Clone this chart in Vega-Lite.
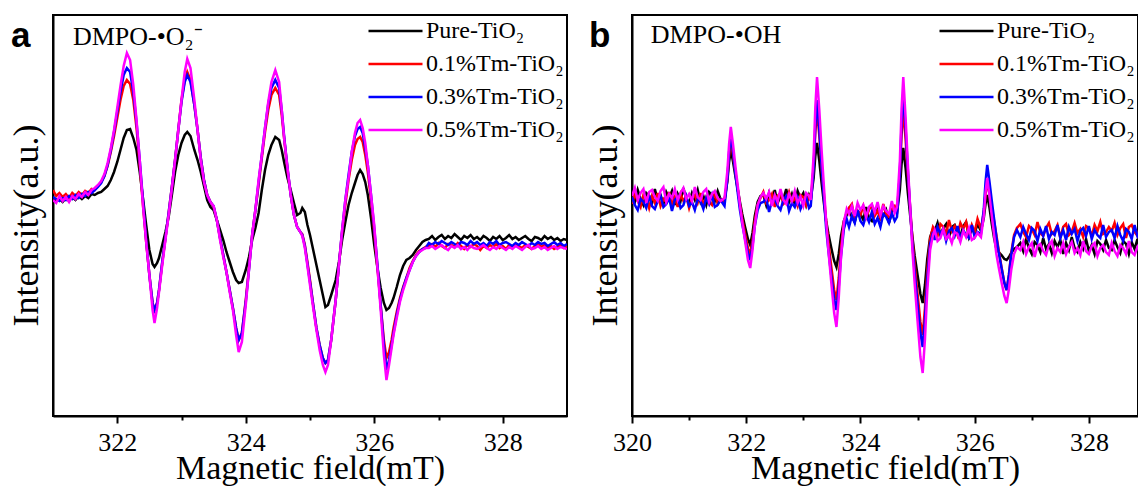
{
  "$schema": "https://vega.github.io/schema/vega-lite/v6.json",
  "padding": {"left": 7, "top": 14, "right": 0, "bottom": 0},
  "config": {
    "font": "Liberation Serif",
    "view": {"stroke": "#000000", "strokeWidth": 2},
    "axis": {"grid": false, "domainColor": "#000000", "domainWidth": 2, "tickColor": "#000000", "tickWidth": 2, "labelColor": "#000000", "labelFont": "Liberation Serif", "titleFont": "Liberation Serif", "titleColor": "#000000", "titleFontWeight": "normal"},
    "legend": {"labelFont": "Liberation Serif", "labelColor": "#000000"}
  },
  "datasets": {
    "a": [
      {"x":321.00,"P":218,"R":226,"B":219,"M":216},{"x":321.05,"P":215,"R":220,"B":217,"M":213},{"x":321.10,"P":217,"R":223,"B":215,"M":220},{"x":321.15,"P":214,"R":219,"B":218,"M":215},{"x":321.20,"P":218,"R":222,"B":216,"M":219},{"x":321.25,"P":215,"R":218,"B":220,"M":214},{"x":321.30,"P":219,"R":223,"B":217,"M":220},{"x":321.35,"P":216,"R":220,"B":221,"M":217},{"x":321.40,"P":220,"R":224,"B":218,"M":222},{"x":321.45,"P":217,"R":221,"B":222,"M":219},{"x":321.50,"P":220,"R":225,"B":220,"M":224},{"x":321.55,"P":218,"R":223,"B":224,"M":221},{"x":321.60,"P":222,"R":227,"B":223,"M":226},{"x":321.65,"P":221,"R":226,"B":226,"M":228},{"x":321.70,"P":223,"R":230,"B":229,"M":231},{"x":321.75,"P":224,"R":234,"B":233,"M":235},{"x":321.80,"P":227,"R":240,"B":240,"M":242},{"x":321.85,"P":230,"R":250,"B":251,"M":253},{"x":321.90,"P":236,"R":264,"B":266,"M":268},{"x":321.95,"P":244,"R":280,"B":284,"M":286},{"x":322.00,"P":254,"R":298,"B":304,"M":308},{"x":322.05,"P":266,"R":316,"B":324,"M":330},{"x":322.10,"P":278,"R":330,"B":341,"M":350},{"x":322.15,"P":286,"R":336,"B":348,"M":363},{"x":322.20,"P":287,"R":332,"B":344,"M":356},{"x":322.25,"P":278,"R":316,"B":324,"M":331},{"x":322.30,"P":266,"R":288,"B":294,"M":296},{"x":322.35,"P":244,"R":251,"B":256,"M":256},{"x":322.40,"P":218,"R":211,"B":216,"M":211},{"x":322.45,"P":191,"R":174,"B":176,"M":174},{"x":322.50,"P":166,"R":141,"B":141,"M":141},{"x":322.55,"P":152,"R":113,"B":113,"M":106},{"x":322.58,"P":149,"R":106,"B":106,"M":93},{"x":322.62,"P":153,"R":113,"B":113,"M":108},{"x":322.65,"P":158,"R":126,"B":126,"M":124},{"x":322.70,"P":171,"R":153,"B":154,"M":151},{"x":322.75,"P":184,"R":178,"B":178,"M":176},{"x":322.80,"P":199,"R":203,"B":203,"M":201},{"x":322.85,"P":221,"R":229,"B":229,"M":228},{"x":322.90,"P":244,"R":256,"B":256,"M":256},{"x":322.95,"P":261,"R":286,"B":286,"M":286},{"x":323.00,"P":273,"R":316,"B":314,"M":316},{"x":323.05,"P":281,"R":336,"B":334,"M":344},{"x":323.09,"P":284,"R":344,"B":341,"M":357},{"x":323.14,"P":280,"R":336,"B":334,"M":348},{"x":323.20,"P":266,"R":311,"B":311,"M":316},{"x":323.25,"P":256,"R":286,"B":286,"M":286},{"x":323.30,"P":244,"R":258,"B":258,"M":256},{"x":323.35,"P":230,"R":236,"B":236,"M":234},{"x":323.40,"P":216,"R":221,"B":221,"M":221},{"x":323.45,"P":209,"R":214,"B":214,"M":214},{"x":323.50,"P":206,"R":209,"B":210,"M":210},{"x":323.55,"P":196,"R":196,"B":196,"M":196},{"x":323.60,"P":186,"R":178,"B":178,"M":176},{"x":323.65,"P":176,"R":161,"B":161,"M":159},{"x":323.70,"P":164,"R":144,"B":144,"M":144},{"x":323.75,"P":154,"R":126,"B":126,"M":124},{"x":323.80,"P":144,"R":108,"B":108,"M":106},{"x":323.85,"P":136,"R":88,"B":88,"M":81},{"x":323.89,"P":133,"R":76,"B":76,"M":64},{"x":323.94,"P":134,"R":83,"B":83,"M":74},{"x":324.00,"P":146,"R":116,"B":114,"M":111},{"x":324.05,"P":159,"R":148,"B":146,"M":146},{"x":324.10,"P":176,"R":181,"B":181,"M":181},{"x":324.15,"P":188,"R":206,"B":206,"M":206},{"x":324.20,"P":203,"R":231,"B":234,"M":236},{"x":324.25,"P":226,"R":258,"B":261,"M":261},{"x":324.30,"P":246,"R":284,"B":288,"M":288},{"x":324.35,"P":261,"R":306,"B":312,"M":314},{"x":324.40,"P":271,"R":321,"B":328,"M":334},{"x":324.46,"P":279,"R":328,"B":336,"M":346},{"x":324.52,"P":276,"R":321,"B":328,"M":334},{"x":324.56,"P":266,"R":301,"B":306,"M":306},{"x":324.60,"P":253,"R":276,"B":278,"M":276},{"x":324.65,"P":238,"R":246,"B":248,"M":248},{"x":324.70,"P":226,"R":221,"B":221,"M":221},{"x":324.75,"P":213,"R":201,"B":201,"M":201},{"x":324.80,"P":201,"R":189,"B":189,"M":189},{"x":324.85,"P":203,"R":184,"B":184,"M":184},{"x":324.88,"P":208,"R":182,"B":181,"M":180},{"x":324.92,"P":204,"R":171,"B":170,"M":168},{"x":324.96,"P":191,"R":154,"B":152,"M":150},{"x":325.00,"P":181,"R":136,"B":134,"M":131},{"x":325.05,"P":166,"R":111,"B":111,"M":108},{"x":325.10,"P":151,"R":88,"B":88,"M":86},{"x":325.15,"P":136,"R":71,"B":71,"M":66},{"x":325.20,"P":121,"R":58,"B":58,"M":51},{"x":325.24,"P":109,"R":53,"B":53,"M":44},{"x":325.28,"P":111,"R":56,"B":56,"M":51},{"x":325.33,"P":121,"R":76,"B":76,"M":76},{"x":325.40,"P":136,"R":116,"B":116,"M":116},{"x":325.45,"P":154,"R":151,"B":151,"M":151},{"x":325.50,"P":176,"R":184,"B":186,"M":186},{"x":325.55,"P":194,"R":211,"B":216,"M":216},{"x":325.60,"P":211,"R":236,"B":241,"M":238},{"x":325.65,"P":223,"R":256,"B":264,"M":264},{"x":325.70,"P":233,"R":271,"B":280,"M":283},{"x":325.74,"P":241,"R":277,"B":287,"M":293},{"x":325.78,"P":246,"R":279,"B":289,"M":296},{"x":325.82,"P":242,"R":274,"B":283,"M":288},{"x":325.86,"P":234,"R":261,"B":268,"M":273},{"x":325.90,"P":221,"R":244,"B":251,"M":251},{"x":325.95,"P":198,"R":216,"B":221,"M":221},{"x":326.00,"P":171,"R":184,"B":188,"M":191},{"x":326.05,"P":148,"R":148,"B":151,"M":148},{"x":326.10,"P":128,"R":111,"B":111,"M":106},{"x":326.15,"P":113,"R":76,"B":71,"M":61},{"x":326.19,"P":106,"R":58,"B":46,"M":36},{"x":326.23,"P":108,"R":64,"B":56,"M":51},{"x":326.27,"P":113,"R":76,"B":71,"M":68},{"x":326.30,"P":118,"R":88,"B":83,"M":81},{"x":326.35,"P":129,"R":104,"B":101,"M":98},{"x":326.40,"P":141,"R":118,"B":116,"M":114},{"x":326.45,"P":150,"R":129,"B":128,"M":126},{"x":326.50,"P":156,"R":138,"B":138,"M":136},{"x":326.55,"P":158,"R":148,"B":146,"M":146},{"x":326.60,"P":161,"R":155,"B":154,"M":154},{"x":326.65,"P":166,"R":161,"B":160,"M":160},{"x":326.70,"P":170,"R":165,"B":164,"M":164},{"x":326.75,"P":174,"R":167,"B":167,"M":166},{"x":326.80,"P":176,"R":169,"B":168,"M":168},
      {"x":326.85,"P":177,"R":170,"B":173,"M":168},{"x":326.90,"P":180,"R":172,"B":171,"M":170},{"x":326.95,"P":176,"R":169,"B":174,"M":167},{"x":327.00,"P":179,"R":173,"B":172,"M":169},{"x":327.05,"P":181,"R":170,"B":175,"M":171},{"x":327.10,"P":177,"R":168,"B":173,"M":168},{"x":327.15,"P":180,"R":172,"B":171,"M":166},{"x":327.20,"P":178,"R":171,"B":174,"M":170},{"x":327.25,"P":182,"R":169,"B":172,"M":168},{"x":327.30,"P":179,"R":173,"B":170,"M":171},{"x":327.35,"P":176,"R":170,"B":174,"M":167},{"x":327.40,"P":180,"R":167,"B":173,"M":169},{"x":327.45,"P":178,"R":171,"B":171,"M":166},{"x":327.50,"P":181,"R":169,"B":175,"M":170},{"x":327.55,"P":177,"R":172,"B":172,"M":168},{"x":327.60,"P":179,"R":170,"B":174,"M":167},{"x":327.65,"P":176,"R":166,"B":171,"M":169},{"x":327.70,"P":180,"R":170,"B":173,"M":171},{"x":327.75,"P":178,"R":168,"B":170,"M":168},{"x":327.80,"P":175,"R":171,"B":174,"M":166},{"x":327.85,"P":179,"R":169,"B":172,"M":169},{"x":327.90,"P":177,"R":172,"B":175,"M":167},{"x":327.95,"P":180,"R":168,"B":171,"M":170},{"x":328.00,"P":176,"R":170,"B":173,"M":168},{"x":328.05,"P":178,"R":167,"B":174,"M":166},{"x":328.10,"P":181,"R":171,"B":172,"M":169},{"x":328.15,"P":177,"R":169,"B":170,"M":167},{"x":328.20,"P":179,"R":172,"B":173,"M":170},{"x":328.25,"P":176,"R":170,"B":171,"M":168},{"x":328.30,"P":178,"R":168,"B":174,"M":166},{"x":328.35,"P":180,"R":171,"B":172,"M":169},{"x":328.40,"P":177,"R":169,"B":170,"M":171},{"x":328.45,"P":175,"R":167,"B":173,"M":167},{"x":328.50,"P":179,"R":170,"B":171,"M":168},{"x":328.55,"P":178,"R":172,"B":174,"M":170},{"x":328.60,"P":176,"R":169,"B":172,"M":167},{"x":328.65,"P":180,"R":171,"B":173,"M":169},{"x":328.70,"P":177,"R":168,"B":170,"M":166},{"x":328.75,"P":179,"R":170,"B":172,"M":168},{"x":328.80,"P":176,"R":167,"B":174,"M":170},{"x":328.85,"P":178,"R":169,"B":171,"M":167},{"x":328.90,"P":175,"R":171,"B":173,"M":169},{"x":328.95,"P":177,"R":168,"B":170,"M":168},{"x":329.00,"P":176,"R":170,"B":172,"M":167}
    ],
    "b": [
      {"x":320.00,"P":222,"R":212,"B":219,"M":220},{"x":320.05,"P":214,"R":222,"B":211,"M":228},{"x":320.10,"P":226,"R":215,"B":206,"M":216},{"x":320.15,"P":217,"R":209,"B":217,"M":223},{"x":320.20,"P":211,"R":221,"B":214,"M":227},{"x":320.25,"P":223,"R":218,"B":208,"M":213},{"x":320.30,"P":220,"R":208,"B":221,"M":224},{"x":320.35,"P":213,"R":220,"B":210,"M":226},{"x":320.40,"P":227,"R":213,"B":207,"M":219},{"x":320.45,"P":216,"R":223,"B":215,"M":215},{"x":320.50,"P":221,"R":210,"B":220,"M":225},{"x":320.55,"P":212,"R":217,"B":209,"M":229},{"x":320.60,"P":224,"R":214,"B":212,"M":214},{"x":320.65,"P":218,"R":224,"B":218,"M":222},{"x":320.70,"P":225,"R":211,"B":205,"M":218},{"x":320.75,"P":211,"R":219,"B":216,"M":227},{"x":320.80,"P":222,"R":209,"B":219,"M":216},{"x":320.85,"P":215,"R":222,"B":208,"M":223},{"x":320.90,"P":228,"R":215,"B":211,"M":228},{"x":320.95,"P":217,"R":220,"B":220,"M":217},{"x":321.00,"P":213,"R":208,"B":210,"M":222},{"x":321.05,"P":223,"R":218,"B":214,"M":215},{"x":321.10,"P":216,"R":221,"B":206,"M":229},{"x":321.15,"P":226,"R":213,"B":217,"M":219},{"x":321.20,"P":214,"R":223,"B":215,"M":216},{"x":321.25,"P":220,"R":210,"B":207,"M":224},{"x":321.30,"P":211,"R":219,"B":218,"M":227},{"x":321.35,"P":224,"R":214,"B":212,"M":214},{"x":321.40,"P":221,"R":211,"B":221,"M":222},{"x":321.45,"P":215,"R":224,"B":209,"M":225},{"x":321.50,"P":225,"R":212,"B":211,"M":218},{"x":321.55,"P":217,"R":217,"B":216,"M":215},
      {"x":321.62,"P":216,"R":214,"B":210,"M":218},{"x":321.67,"P":235,"R":237,"B":237,"M":245},{"x":321.70,"P":254,"R":261,"B":264,"M":272},{"x":321.73,"P":266,"R":276,"B":281,"M":289},{"x":321.77,"P":254,"R":261,"B":264,"M":271},{"x":321.81,"P":240,"R":244,"B":243,"M":250},{"x":321.85,"P":227,"R":228,"B":224,"M":231},{"x":321.89,"P":214,"R":211,"B":206,"M":211},{"x":321.93,"P":202,"R":197,"B":192,"M":194},{"x":321.98,"P":189,"R":182,"B":177,"M":175},{"x":322.03,"P":177,"R":168,"B":163,"M":156},{"x":322.07,"P":171,"R":161,"B":156,"M":148},{"x":322.11,"P":183,"R":175,"B":170,"M":166},{"x":322.15,"P":200,"R":195,"B":190,"M":190},{"x":322.20,"P":214,"R":211,"B":206,"M":211},{"x":322.25,"P":220,"R":218,"B":213,"M":219},
      {"x":322.30,"P":221,"R":224,"B":214,"M":223},{"x":322.35,"P":211,"R":213,"B":218,"M":217},{"x":322.40,"P":223,"R":216,"B":204,"M":224},{"x":322.45,"P":216,"R":222,"B":215,"M":210},{"x":322.50,"P":226,"R":209,"B":217,"M":221},{"x":322.55,"P":213,"R":220,"B":210,"M":214},{"x":322.60,"P":220,"R":223,"B":206,"M":227},{"x":322.65,"P":217,"R":212,"B":216,"M":216},{"x":322.70,"P":227,"R":215,"B":220,"M":212},{"x":322.75,"P":214,"R":224,"B":205,"M":222},{"x":322.80,"P":222,"R":214,"B":213,"M":215},{"x":322.85,"P":212,"R":218,"B":209,"M":225},{"x":322.90,"P":225,"R":210,"B":218,"M":213},{"x":322.95,"P":218,"R":221,"B":207,"M":219},{"x":323.00,"P":223,"R":219,"B":214,"M":210},{"x":323.05,"P":211,"R":211,"B":219,"M":223},{"x":323.10,"P":221,"R":222,"B":208,"M":220},
      {"x":323.13,"P":217,"R":215,"B":210,"M":216},{"x":323.18,"P":238,"R":248,"B":248,"M":260},{"x":323.21,"P":260,"R":284,"B":290,"M":309},{"x":323.24,"P":273,"R":306,"B":316,"M":339},{"x":323.28,"P":255,"R":280,"B":286,"M":306},{"x":323.32,"P":233,"R":249,"B":250,"M":266},{"x":323.36,"P":213,"R":222,"B":218,"M":230},{"x":323.40,"P":195,"R":194,"B":187,"M":194},{"x":323.44,"P":182,"R":173,"B":165,"M":165},{"x":323.49,"P":168,"R":149,"B":140,"M":133},{"x":323.54,"P":155,"R":126,"B":117,"M":103},{"x":323.58,"P":149,"R":116,"B":106,"M":89},{"x":323.62,"P":162,"R":138,"B":129,"M":118},{"x":323.66,"P":180,"R":168,"B":160,"M":159},{"x":323.71,"P":195,"R":194,"B":187,"M":194},{"x":323.76,"P":201,"R":204,"B":197,"M":207},
      {"x":323.80,"P":207,"R":208,"B":189,"M":202},{"x":323.85,"P":199,"R":212,"B":200,"M":210},{"x":323.90,"P":194,"R":197,"B":193,"M":200},{"x":323.95,"P":205,"R":205,"B":206,"M":213},{"x":324.00,"P":202,"R":201,"B":195,"M":206},{"x":324.05,"P":196,"R":210,"B":191,"M":211},{"x":324.10,"P":209,"R":199,"B":201,"M":199},{"x":324.15,"P":198,"R":206,"B":194,"M":209},{"x":324.20,"P":195,"R":211,"B":204,"M":212},{"x":324.25,"P":203,"R":200,"B":192,"M":204},{"x":324.30,"P":208,"R":205,"B":198,"M":214},{"x":324.35,"P":197,"R":198,"B":189,"M":201},{"x":324.40,"P":200,"R":212,"B":202,"M":210},{"x":324.45,"P":206,"R":202,"B":199,"M":205},{"x":324.50,"P":193,"R":199,"B":193,"M":202},{"x":324.55,"P":204,"R":207,"B":203,"M":215},{"x":324.60,"P":207,"R":210,"B":195,"M":203},
      {"x":324.64,"P":203,"R":205,"B":199,"M":209},{"x":324.69,"P":226,"R":241,"B":243,"M":255},{"x":324.72,"P":252,"R":281,"B":292,"M":307},{"x":324.75,"P":268,"R":306,"B":323,"M":339},{"x":324.79,"P":248,"R":277,"B":288,"M":299},{"x":324.83,"P":223,"R":241,"B":246,"M":252},{"x":324.87,"P":201,"R":209,"B":208,"M":209},{"x":324.91,"P":179,"R":177,"B":172,"M":166},{"x":324.95,"P":160,"R":151,"B":143,"M":132},{"x":325.00,"P":141,"R":122,"B":112,"M":95},{"x":325.05,"P":122,"R":94,"B":83,"M":59},{"x":325.09,"P":113,"R":81,"B":69,"M":43},{"x":325.13,"P":131,"R":108,"B":97,"M":77},{"x":325.17,"P":157,"R":145,"B":137,"M":125},{"x":325.22,"P":179,"R":177,"B":172,"M":166},{"x":325.27,"P":187,"R":189,"B":184,"M":181},
      {"x":325.30,"P":185,"R":186,"B":176,"M":186},{"x":325.35,"P":193,"R":180,"B":189,"M":175},{"x":325.40,"P":181,"R":192,"B":182,"M":178},{"x":325.45,"P":188,"R":189,"B":187,"M":187},{"x":325.50,"P":192,"R":182,"B":175,"M":177},{"x":325.55,"P":178,"R":196,"B":185,"M":181},{"x":325.60,"P":189,"R":185,"B":188,"M":173},{"x":325.65,"P":191,"R":190,"B":180,"M":184},{"x":325.70,"P":184,"R":181,"B":190,"M":182},{"x":325.75,"P":180,"R":193,"B":177,"M":174},{"x":325.80,"P":190,"R":187,"B":186,"M":185},{"x":325.85,"P":194,"R":194,"B":181,"M":179},{"x":325.90,"P":179,"R":180,"B":178,"M":188},{"x":325.95,"P":187,"R":191,"B":191,"M":176},{"x":326.00,"P":183,"R":184,"B":179,"M":178},{"x":326.05,"P":192,"R":197,"B":184,"M":183},
      {"x":326.11,"P":185,"R":187,"B":182,"M":179},{"x":326.16,"P":198,"R":204,"B":207,"M":200},{"x":326.19,"P":212,"R":222,"B":234,"M":224},{"x":326.22,"P":221,"R":234,"B":251,"M":238},{"x":326.26,"P":208,"R":222,"B":234,"M":220},{"x":326.30,"P":192,"R":208,"B":215,"M":200},{"x":326.34,"P":178,"R":195,"B":197,"M":181},{"x":326.38,"P":167,"R":181,"B":179,"M":162},{"x":326.42,"P":164,"R":166,"B":164,"M":149},{"x":326.47,"P":161,"R":149,"B":148,"M":134},{"x":326.52,"P":157,"R":133,"B":133,"M":120},{"x":326.56,"P":156,"R":126,"B":126,"M":113},{"x":326.60,"P":159,"R":141,"B":141,"M":127},{"x":326.64,"P":163,"R":163,"B":161,"M":146},{"x":326.69,"P":167,"R":181,"B":179,"M":162},{"x":326.74,"P":169,"R":188,"B":186,"M":169},
      {"x":326.80,"P":173,"R":192,"B":179,"M":166},{"x":326.85,"P":165,"R":184,"B":189,"M":174},{"x":326.90,"P":177,"R":179,"B":182,"M":162},{"x":326.95,"P":168,"R":190,"B":176,"M":169},{"x":327.00,"P":162,"R":187,"B":188,"M":173},{"x":327.05,"P":174,"R":181,"B":185,"M":159},{"x":327.10,"P":171,"R":194,"B":175,"M":170},{"x":327.15,"P":164,"R":183,"B":187,"M":172},{"x":327.20,"P":178,"R":180,"B":180,"M":165},{"x":327.25,"P":167,"R":188,"B":190,"M":161},{"x":327.30,"P":172,"R":193,"B":177,"M":171},{"x":327.35,"P":163,"R":182,"B":184,"M":175},{"x":327.40,"P":175,"R":185,"B":181,"M":160},{"x":327.45,"P":169,"R":191,"B":191,"M":168},{"x":327.50,"P":176,"R":178,"B":178,"M":164},{"x":327.55,"P":162,"R":189,"B":186,"M":173},{"x":327.60,"P":173,"R":192,"B":176,"M":162},{"x":327.65,"P":166,"R":181,"B":189,"M":169},{"x":327.70,"P":179,"R":184,"B":182,"M":174},{"x":327.75,"P":168,"R":193,"B":187,"M":163},{"x":327.80,"P":164,"R":183,"B":175,"M":168},{"x":327.85,"P":174,"R":187,"B":185,"M":161},{"x":327.90,"P":167,"R":179,"B":188,"M":175},{"x":327.95,"P":177,"R":190,"B":180,"M":165},{"x":328.00,"P":165,"R":188,"B":190,"M":162},{"x":328.05,"P":171,"R":180,"B":177,"M":170},{"x":328.10,"P":162,"R":191,"B":186,"M":173},{"x":328.15,"P":175,"R":185,"B":181,"M":160},{"x":328.20,"P":172,"R":194,"B":178,"M":168},{"x":328.25,"P":166,"R":182,"B":191,"M":171},{"x":328.30,"P":176,"R":184,"B":179,"M":164},{"x":328.35,"P":168,"R":189,"B":184,"M":161},{"x":328.40,"P":166,"R":185,"B":186,"M":173},{"x":328.45,"P":176,"R":193,"B":178,"M":165},{"x":328.50,"P":169,"R":181,"B":190,"M":160},{"x":328.55,"P":163,"R":188,"B":181,"M":171},{"x":328.60,"P":175,"R":192,"B":175,"M":168},{"x":328.65,"P":172,"R":178,"B":187,"M":162},{"x":328.70,"P":162,"R":189,"B":184,"M":175},{"x":328.75,"P":174,"R":191,"B":177,"M":164},{"x":328.80,"P":167,"R":184,"B":191,"M":161},{"x":328.85,"P":177,"R":180,"B":180,"M":169},{"x":328.90,"P":164,"R":190,"B":185,"M":174},{"x":328.95,"P":171,"R":194,"B":176,"M":163},{"x":329.00,"P":168,"R":179,"B":188,"M":166}
    ]
  },
  "hconcat": [
    {
      "width": 514,
      "height": 401,
      "layer": [
        {
          "data": {"name": "a"},
          "transform": [{"fold": ["P", "R", "B", "M"], "as": ["k", "I"]}],
          "mark": {"type": "line", "strokeWidth": 2.5, "clip": true},
          "encoding": {
            "x": {"field": "x", "type": "quantitative", "scale": {"domain": [321, 329], "nice": false, "zero": false},
              "axis": {"title": "Magnetic field(mT)", "values": [322, 323, 324, 325, 326, 327, 328], "format": "d", "labelExpr": "datum.value % 2 == 0 ? datum.label : ''", "tickSize": {"condition": {"test": "datum.value % 2 == 0", "value": 7}, "value": 4}, "labelFlush": false, "labelOverlap": false, "labelPadding": 6, "labelFontSize": 26, "titleFontSize": 34, "titlePadding": -4}},
            "y": {"field": "I", "type": "quantitative", "scale": {"domain": [0, 401], "nice": false, "zero": false},
              "axis": {"title": "Intensity(a.u.)", "labels": false, "ticks": false, "titleFontSize": 36, "titlePadding": 8, "titleY": 210}},
            "color": {"field": "k", "type": "nominal", "scale": {"domain": ["P", "R", "B", "M"], "range": ["#000000", "#ff0000", "#0000ff", "#ff00ff"]},
              "legend": {"title": null, "orient": "top-right", "offset": 3, "padding": 0, "labelExpr": "datum.label == 'P' ? 'Pure-TiO₂' : datum.label == 'R' ? '0.1%Tm-TiO₂' : datum.label == 'B' ? '0.3%Tm-TiO₂' : '0.5%Tm-TiO₂'", "symbolType": "stroke", "symbolSize": 2916, "symbolStrokeWidth": 2.5, "labelFontSize": 24, "labelOffset": 2, "clipHeight": 26, "rowPadding": 7, "labelLimit": 300}}
          }
        },
        {
          "data": {"values": [{"label": "DMPO-•O₂⁻"}]},
          "mark": {"type": "text", "align": "left", "baseline": "alphabetic", "font": "Liberation Serif", "fontSize": 26, "color": "#000000"},
          "encoding": {"x": {"datum": 321.31, "type": "quantitative"}, "y": {"datum": 371, "type": "quantitative"}, "text": {"field": "label"}}
        },
        {
          "data": {"values": [{"label": "a"}]},
          "mark": {"type": "text", "align": "left", "baseline": "alphabetic", "font": "Liberation Sans", "fontSize": 35, "fontWeight": "bold", "color": "#000000"},
          "encoding": {"x": {"datum": 320.346, "type": "quantitative"}, "y": {"datum": 369, "type": "quantitative"}, "text": {"field": "label"}}
        }
      ]
    },
    {
      "width": 506,
      "height": 401,
      "layer": [
        {
          "data": {"name": "b"},
          "transform": [{"fold": ["P", "R", "B", "M"], "as": ["k", "I"]}],
          "mark": {"type": "line", "strokeWidth": 2.5, "clip": true},
          "encoding": {
            "x": {"field": "x", "type": "quantitative", "scale": {"domain": [320, 328.86], "nice": false, "zero": false},
              "axis": {"title": "Magnetic field(mT)", "values": [320, 321, 322, 323, 324, 325, 326, 327, 328], "format": "d", "labelExpr": "datum.value % 2 == 0 ? datum.label : ''", "tickSize": {"condition": {"test": "datum.value % 2 == 0", "value": 7}, "value": 4}, "labelFlush": false, "labelOverlap": false, "labelPadding": 6, "labelFontSize": 26, "titleFontSize": 34, "titlePadding": -4}},
            "y": {"field": "I", "type": "quantitative", "scale": {"domain": [0, 401], "nice": false, "zero": false},
              "axis": {"title": "Intensity(a.u.)", "labels": false, "ticks": false, "titleFontSize": 36, "titlePadding": 8, "titleY": 210}},
            "color": {"field": "k", "type": "nominal", "scale": {"domain": ["P", "R", "B", "M"], "range": ["#000000", "#ff0000", "#0000ff", "#ff00ff"]},
              "legend": {"title": null, "orient": "top-right", "offset": 3, "padding": 0, "labelExpr": "datum.label == 'P' ? 'Pure-TiO₂' : datum.label == 'R' ? '0.1%Tm-TiO₂' : datum.label == 'B' ? '0.3%Tm-TiO₂' : '0.5%Tm-TiO₂'", "symbolType": "stroke", "symbolSize": 2916, "symbolStrokeWidth": 2.5, "labelFontSize": 24, "labelOffset": 2, "clipHeight": 26, "rowPadding": 7, "labelLimit": 300}}
          }
        },
        {
          "data": {"values": [{"label": "DMPO-•OH"}]},
          "mark": {"type": "text", "align": "left", "baseline": "alphabetic", "font": "Liberation Serif", "fontSize": 26, "color": "#000000"},
          "encoding": {"x": {"datum": 320.33, "type": "quantitative"}, "y": {"datum": 373, "type": "quantitative"}, "text": {"field": "label"}}
        },
        {
          "data": {"values": [{"label": "b"}]},
          "mark": {"type": "text", "align": "left", "baseline": "alphabetic", "font": "Liberation Sans", "fontSize": 35, "fontWeight": "bold", "color": "#000000"},
          "encoding": {"x": {"datum": 319.247, "type": "quantitative"}, "y": {"datum": 369, "type": "quantitative"}, "text": {"field": "label"}}
        }
      ]
    }
  ],
  "spacing": 65,
  "bounds": "flush",
  "resolve": {"scale": {"x": "independent", "y": "independent", "color": "independent"}, "legend": {"color": "independent"}}
}
